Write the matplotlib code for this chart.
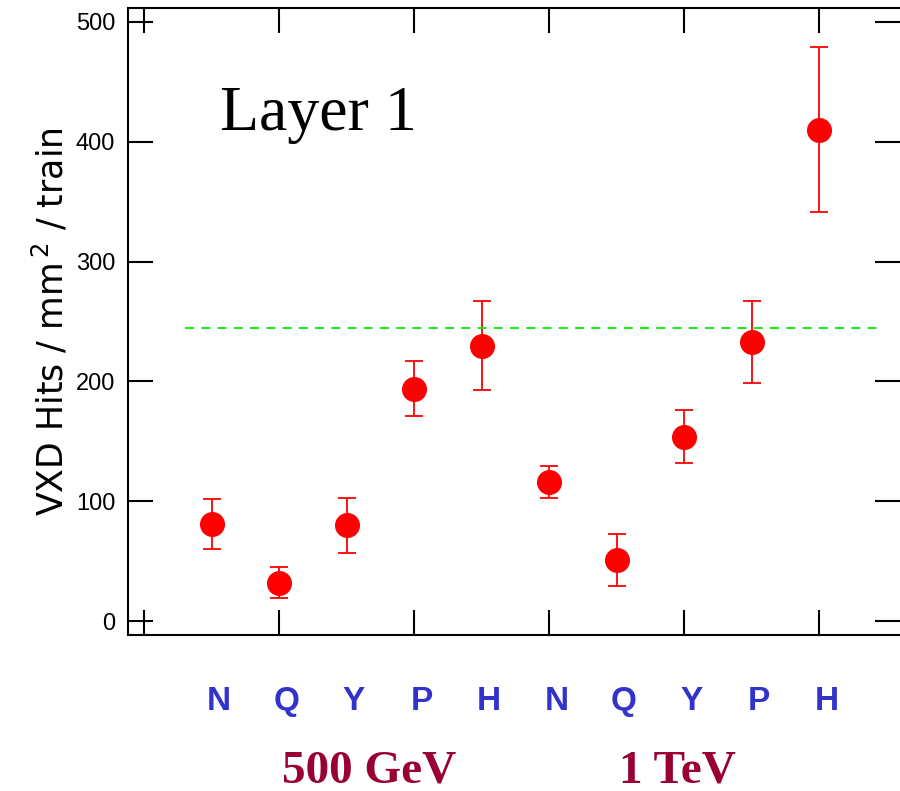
import matplotlib.pyplot as plt
import matplotlib.ticker as mticker

categories = ['N', 'Q', 'Y', 'P', 'H', 'N', 'Q', 'Y', 'P', 'H']
xpos = [1, 2, 3, 4, 5, 6, 7, 8, 9, 10]
hits = [81, 32, 80, 194, 230, 116, 51, 154, 233, 410]
hits_err = [21, 13, 23, 23, 37, 13.5, 22, 22, 34, 69]
ref_level = 244.5
groups = ['500 GeV', '1 TeV']
group_x = [3.34, 7.9]

fig = plt.figure(figsize=(9, 7.91), dpi=100)
ax = fig.add_axes([0.142, 0.197, 0.858, 0.793])

ax.errorbar(xpos, hits, yerr=hits_err, fmt='o', color='#ff0000', ms=17,
            ecolor='#ff0000', elinewidth=1.3, capsize=6.5, capthick=1.3)
ax.plot([0.6, 10.9], [ref_level, ref_level], color='#00ee00', ls='--', lw=1.3, dashes=(5, 4))

ax.set_xlim(-0.24, 11.2)
ax.set_ylim(-11.7, 511.7)
ax.xaxis.set_major_locator(mticker.MultipleLocator(2))
ax.yaxis.set_major_locator(mticker.MultipleLocator(100))
ax.tick_params(direction='in', length=18, width=1.5, top=True, right=True,
               labelbottom=False, labelsize=17, pad=9)
ax.spines['right'].set_visible(False)
for s in ['left', 'top', 'bottom']:
    ax.spines[s].set_linewidth(1.5)
for lab in ax.get_yticklabels():
    lab.set_family('Liberation Sans')

ax.set_ylabel('VXD Hits / mm$^{\\,2}$ / train', fontsize=25, family='DejaVu Sans')
ax.yaxis.set_label_coords(-0.074, 0.5)

ax.text(0.119, 0.805, 'Layer 1', transform=ax.transAxes, fontsize=46,
        family='Liberation Serif', va='baseline')

trans = ax.get_xaxis_transform()
for x, c in zip(xpos, categories):
    ax.text(x + 0.11, -0.105, c, transform=trans, ha='center', va='center',
            fontsize=24, fontweight='bold', color='#3333cc', family='Liberation Sans')
for x, g in zip(group_x, groups):
    ax.text(x, -0.235, g, transform=trans, ha='center', va='baseline',
            fontsize=34, fontweight='bold', color='#990033', family='Liberation Serif')

fig.savefig('out.png', dpi=100)
